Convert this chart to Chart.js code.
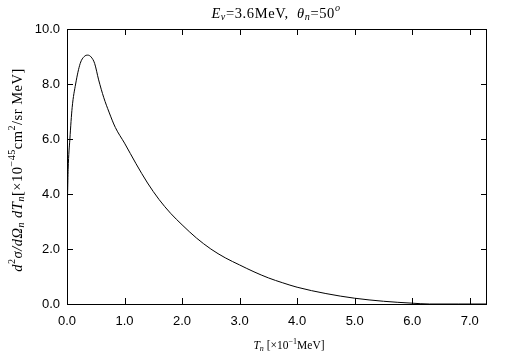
<!DOCTYPE html>
<html lang="en">
<head>
    <meta charset="UTF-8">
    <title>Tn spectrum</title>
    <script src="https://cdn.jsdelivr.net/npm/chart.js"></script>
    <style>
        html, body { margin: 0; padding: 0; background: #fff; }
        #box { width: 505px; height: 361px; }
    </style>
</head>
<body>
    <div id="box"><canvas id="grafico"></canvas></div>

<script>
    // values
    const tn = [0, 0.01, 0.02, 0.05, 0.09, 0.15, 0.23, 0.30, 0.36, 0.42, 0.48, 0.55, 0.64, 0.73, 0.84,
                1.0, 1.2, 1.4, 1.6, 1.8, 2.0, 2.25, 2.5, 2.75, 3.0, 3.25, 3.5, 3.75, 4.0, 4.5, 5.0, 5.5, 6.0, 6.3, 6.8, 7.3];
    const secao = [3.1, 4.0, 4.9, 6.0, 7.15, 8.0, 8.75, 9.0, 9.05, 8.98, 8.75, 8.15, 7.5, 6.98, 6.42,
                   5.85, 5.1, 4.4, 3.8, 3.3, 2.88, 2.4, 2.0, 1.68, 1.42, 1.17, 0.95, 0.77, 0.61, 0.38, 0.21, 0.10, 0.03, 0.0, 0.0, 0.0];
    const xTicks = [0, 1, 2, 3, 4, 5, 6, 7];
    const yTicks = [0, 2, 4, 6, 8, 10];

    const serif = '"Liberation Serif", "Times New Roman", serif';
    const sans = '"Liberation Sans", Arial, sans-serif';

    // pieces: [text, italic, shift] shift: 0 normal, 1 sup, -1 sub
    const titulo = [['E', 1, 0], ['ν', 1, -1], ['=3.6MeV,  ', 0, 0], ['θ', 1, 0], ['n', 1, -1], ['=50', 0, 0], ['o', 1, 1]];
    const rotuloX = [['T', 1, 0], ['n', 1, -1], [' [×10', 0, 0], ['−1', 0, 1], ['MeV]', 0, 0]];
    const rotuloY = [['d', 1, 0], ['2', 0, 1], ['σ/d', 1, 0], ['Ω', 1, 0], ['n', 1, -1], [' d', 1, 0], ['T', 1, 0], ['n', 1, -1],
                     ['[×10', 0, 0], ['−45', 0, 1], ['cm', 0, 0], ['2', 0, 1], ['/sr MeV]', 0, 0]];

    function fonte(p, size) {
        const s = p[2] ? size * 0.7 : size;
        return (p[1] ? 'italic ' : '') + s + 'px ' + serif;
    }

    function largura(ctx, partes, size) {
        let w = 0;
        partes.forEach(p => { ctx.font = fonte(p, size); w += ctx.measureText(p[0]).width; });
        return w;
    }

    function escrever(ctx, partes, size, cx, cy, rot, esp) {
        ctx.save();
        ctx.translate(cx, cy);
        if (rot) ctx.rotate(-Math.PI / 2);
        ctx.textBaseline = 'middle';
        ctx.textAlign = 'left';
        ctx.fillStyle = '#000';
        ctx.letterSpacing = (esp || 0) + 'px';
        let x = -largura(ctx, partes, size) / 2;
        partes.forEach(p => {
            ctx.font = fonte(p, size);
            const dy = p[2] === 1 ? -size * 0.38 : (p[2] === -1 ? size * 0.25 : 0);
            ctx.fillText(p[0], x, dy);
            x += ctx.measureText(p[0]).width;
        });
        ctx.restore();
    }

    const moldura = {
        id: 'moldura',
        afterDraw(chart) {
            const ctx = chart.ctx;
            const a = chart.chartArea;
            const sx = chart.scales.x, sy = chart.scales.y;
            ctx.save();
            ctx.strokeStyle = '#000';
            ctx.lineWidth = 1;
            ctx.strokeRect(a.left + 0.5, a.top + 0.5, a.right - a.left - 1, a.bottom - a.top);
            ctx.beginPath();
            xTicks.forEach(v => {
                const px = Math.round(sx.getPixelForValue(v)) + 0.5;
                ctx.moveTo(px, a.bottom); ctx.lineTo(px, a.bottom - 6);
                ctx.moveTo(px, a.top); ctx.lineTo(px, a.top + 6);
            });
            yTicks.forEach(v => {
                const py = Math.round(sy.getPixelForValue(v)) + 0.5;
                ctx.moveTo(a.left, py); ctx.lineTo(a.left + 6, py);
                ctx.moveTo(a.right, py); ctx.lineTo(a.right - 6, py);
            });
            ctx.stroke();
            ctx.restore();

            escrever(ctx, titulo, 14.5, 276, 14, false, 0.6);
            escrever(ctx, rotuloX, 11.5, 289, 346, false, 0);
            escrever(ctx, rotuloY, 14.5, 18, 170, true, 0.5);
        }
    };

    new Chart(document.getElementById('grafico'), {
        type: 'line',
        data: {
            datasets: [{
                data: tn.map((v, i) => ({ x: v, y: secao[i] })),
                borderColor: '#000',
                borderWidth: 1,
                pointRadius: 0,
                fill: false,
                cubicInterpolationMode: 'monotone'
            }]
        },
        options: {
            responsive: true,
            maintainAspectRatio: false,
            animation: false,
            layout: { padding: { left: 0, top: 29, right: 18, bottom: 0 } },
            plugins: { legend: { display: false }, tooltip: { enabled: false } },
            scales: {
                x: {
                    type: 'linear', min: 0, max: 7.3,
                    grid: { display: false, drawTicks: false },
                    border: { display: false },
                    afterBuildTicks: s => { s.ticks = xTicks.map(v => ({ value: v })); },
                    afterFit: s => { s.height = 57; },
                    ticks: { color: '#000', padding: 10, maxRotation: 0, autoSkip: false,
                             font: { family: sans, size: 13 }, callback: v => v.toFixed(1) }
                },
                y: {
                    min: 0, max: 10,
                    grid: { display: false, drawTicks: false },
                    border: { display: false },
                    afterBuildTicks: s => { s.ticks = yTicks.map(v => ({ value: v })); },
                    afterFit: s => { s.width = 67; },
                    ticks: { color: '#000', padding: 7, autoSkip: false,
                             font: { family: sans, size: 13 }, callback: v => v.toFixed(1) }
                }
            }
        },
        plugins: [moldura]
    });
</script>
</body>
</html>
